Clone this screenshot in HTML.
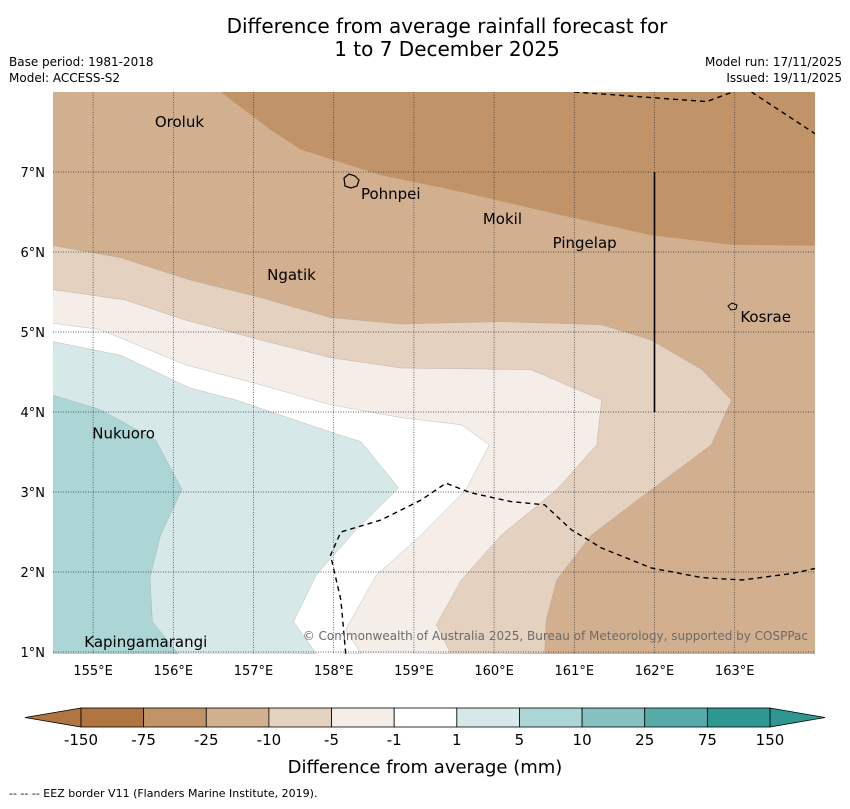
<!DOCTYPE html>
<html><head><meta charset="utf-8">
<style>
body{margin:0;background:#fff;width:850px;height:804px;overflow:hidden;font-family:"Liberation Sans","DejaVu Sans",sans-serif;}
svg text{font-family:"DejaVu Sans","Liberation Sans",sans-serif;}
</style></head>
<body>
<svg id="chart" width="850" height="804" viewBox="0 0 850 804" xmlns="http://www.w3.org/2000/svg">
<text x="447" y="33" font-size="20" text-anchor="middle">Difference from average rainfall forecast for</text>
<text x="447" y="56" font-size="20" text-anchor="middle">1 to 7 December 2025</text>
<text x="9" y="66" font-size="12">Base period: 1981-2018</text>
<text x="9" y="82" font-size="12">Model: ACCESS-S2</text>
<text x="842" y="66" font-size="12" text-anchor="end">Model run: 17/11/2025</text>
<text x="842" y="82" font-size="12" text-anchor="end">Issued: 19/11/2025</text>
<defs><clipPath id="mapclip"><rect x="53" y="92" width="762" height="562"/></clipPath></defs>
<g id="map" clip-path="url(#mapclip)"></g>
<g id="overlay"></g>
<g id="cbar"></g>
<text x="425" y="773" font-size="18" text-anchor="middle">Difference from average (mm)</text>
<text x="9" y="797" font-size="11">--  --  -- EEZ border V11 (Flanders Marine Institute, 2019).</text>
</svg>
<script>
const lonTicks=[155,156,157,158,159,160,161,162,163];
const latTicks=[1,2,3,4,5,6,7];
const cbarLabels=["-150","-75","-25","-10","-5","-1","1","5","10","25","75","150"];
const cbarColors=["#b07540","#c09468","#d2b08f","#e4d1c0","#f5ede8","#ffffff","#d6e9e8","#acd6d6","#85c1c0","#56aaa8","#2e9792"];
const topBand=[[156.59,8],[157.21,7.53],[157.59,7.28],[158.59,6.96],[159.46,6.78],[160.84,6.46],[161.96,6.21],[162.96,6.09],[164.03,6.08]];
const band10=[[154.5,6.08],[155.34,5.93],[156.21,5.65],[157.09,5.43],[157.96,5.18],[158.84,5.10],[160.09,5.13],[161.34,5.09],[161.96,4.90],[162.59,4.53],[162.96,4.15],[162.71,3.59],[161.96,3.03],[161.21,2.46],[160.78,1.90],[160.65,1.40],[160.63,0.98]];
const band5=[[154.5,5.53],[155.4,5.4],[156.15,5.15],[157.09,4.9],[157.96,4.68],[158.84,4.55],[160.46,4.53],[161.34,4.15],[161.28,3.59],[160.78,3.03],[160.09,2.46],[159.59,1.9],[159.28,1.34],[159.46,0.98]];
const band1=[[154.5,5.11],[155.09,5.03],[156.15,4.59],[157.09,4.34],[157.96,4.09],[158.84,3.93],[159.59,3.84],[159.94,3.59],[159.65,3.03],[159.09,2.46],[158.53,1.96],[158.15,1.28],[158.34,0.98]];
const bandP1=[[154.5,4.88],[155.34,4.71],[156.21,4.3],[156.78,4.15],[157.96,3.75],[158.34,3.63],[158.81,3.05],[158.28,2.53],[157.78,1.96],[157.5,1.38],[157.78,0.98]];
const bandP5=[[154.5,4.21],[155.09,4.03],[155.78,3.65],[156.11,3.03],[155.84,2.46],[155.71,1.93],[155.74,1.38],[156.06,0.98]];
const eezSouth=[[158.15,0.98],[158.09,1.65],[157.96,2.21],[158.09,2.5],[158.59,2.65],[159.09,2.9],[159.4,3.11],[159.71,2.99],[160.21,2.88],[160.63,2.84],[160.96,2.53],[161.34,2.3],[161.96,2.05],[162.59,1.93],[163.09,1.9],[163.71,1.98],[164.03,2.05]];
const eezNorth1=[[161.0,8],[162.65,7.88],[163.03,8.02]];
const eezNorth2=[[163.21,8],[164.03,7.46]];
const places=[["Oroluk",155.77,7.625],["Pohnpei",158.34,6.725],["Mokil",159.86,6.41],["Pingelap",160.73,6.11],["Ngatik",157.17,5.71],["Kosrae",163.07,5.19],["Nukuoro",154.99,3.73],["Kapingamarangi",154.89,1.125]];
const NS="http://www.w3.org/2000/svg";
const x=lon=>53+(lon-154.5)*80.2;
const y=lat=>652-(lat-1)*80;
function mk(tag,attrs,parent){const e=document.createElementNS(NS,tag);for(const k in attrs)e.setAttribute(k,attrs[k]);parent.appendChild(e);return e;}
const map=document.getElementById('map'),ov=document.getElementById('overlay'),cb=document.getElementById('cbar');
const pts=a=>a.map(p=>x(p[0]).toFixed(1)+","+y(p[1]).toFixed(1)).join(" ");
let bg=mk('rect',{x:53,y:92,width:762,height:562,fill:cbarColors[2]},map);

let p=mk('polygon',{points:pts(topBand)+" "+x(164.1)+","+y(8.1),fill:cbarColors[1]},map);

const bands=[[band10,3,'band-minus10'],[band5,4,'band-minus5'],[band1,5,'band-neutral'],[bandP1,6,'band-plus1'],[bandP5,7,'band-plus5']];
bands.forEach(b=>{const e=mk('polygon',{points:pts(b[0])+" "+x(154.4)+","+y(0.9),fill:cbarColors[b[1]],stroke:'#999',"stroke-width":0.3},map);
});
lonTicks.forEach(l=>{const g=mk('line',{x1:x(l),x2:x(l),y1:92,y2:654,stroke:'#333',"stroke-width":0.7,"stroke-dasharray":"1,1.5"},map);

const t=mk('text',{x:x(l),y:675,"font-size":13,"text-anchor":"middle"},ov);t.textContent=l+"°E";
});
latTicks.forEach(l=>{const g=mk('line',{x1:53,x2:815,y1:y(l),y2:y(l),stroke:'#333',"stroke-width":0.7,"stroke-dasharray":"1,1.5"},map);

const t=mk('text',{x:45,y:y(l)+5,"font-size":13,"text-anchor":"end"},ov);t.textContent=l+"°N";
});
[eezSouth,eezNorth1,eezNorth2].forEach(a=>{const e=mk('polyline',{points:pts(a),fill:'none',stroke:'#000',"stroke-width":1.4,"stroke-dasharray":"5,4"},map);
});
let v=mk('line',{x1:x(162),x2:x(162),y1:y(7),y2:y(4),stroke:'#000',"stroke-width":1.6},map);

let ph=mk('path',{d:"M344,178 l5,-4 l6,2 l4,4 l-2,6 l-6,2 l-6,-2 z",fill:'none',stroke:'#000',"stroke-width":1.2},map);

let ks=mk('path',{d:"M728,306 l4,-3 l5,2 l-1,4 l-5,1 z",fill:'none',stroke:'#000',"stroke-width":1},map);

places.forEach(pl=>{const t=mk('text',{x:x(pl[1]),y:y(pl[2])+5,"font-size":15,fill:'#000'},map);t.textContent=pl[0];
});
let cp=mk('text',{x:808,y:640,"font-size":12,fill:'#6b6b6b',"text-anchor":"end"},map);
cp.textContent="© Commonwealth of Australia 2025, Bureau of Meteorology, supported by COSPPac";

// colorbar
const cx0=81,cw=(770-81)/cbarColors.length,cy=708,ch=19;
let tl=mk('polygon',{points:`${cx0},${cy} 25,${cy+ch/2} ${cx0},${cy+ch}`,fill:cbarColors[0],stroke:'#000',"stroke-width":0.8},cb);

let tr=mk('polygon',{points:`770,${cy} 825,${cy+ch/2} 770,${cy+ch}`,fill:cbarColors[cbarColors.length-1],stroke:'#000',"stroke-width":0.8},cb);

cbarColors.forEach((c,i)=>{const r=mk('rect',{x:cx0+i*cw,y:cy,width:cw,height:ch,fill:c,stroke:'#000',"stroke-width":0.8},cb);
});
cbarLabels.forEach((l,i)=>{const t=mk('text',{x:cx0+i*cw,y:745,"font-size":15,"text-anchor":"middle"},cb);t.textContent=l;
});
</script>
</body></html>
